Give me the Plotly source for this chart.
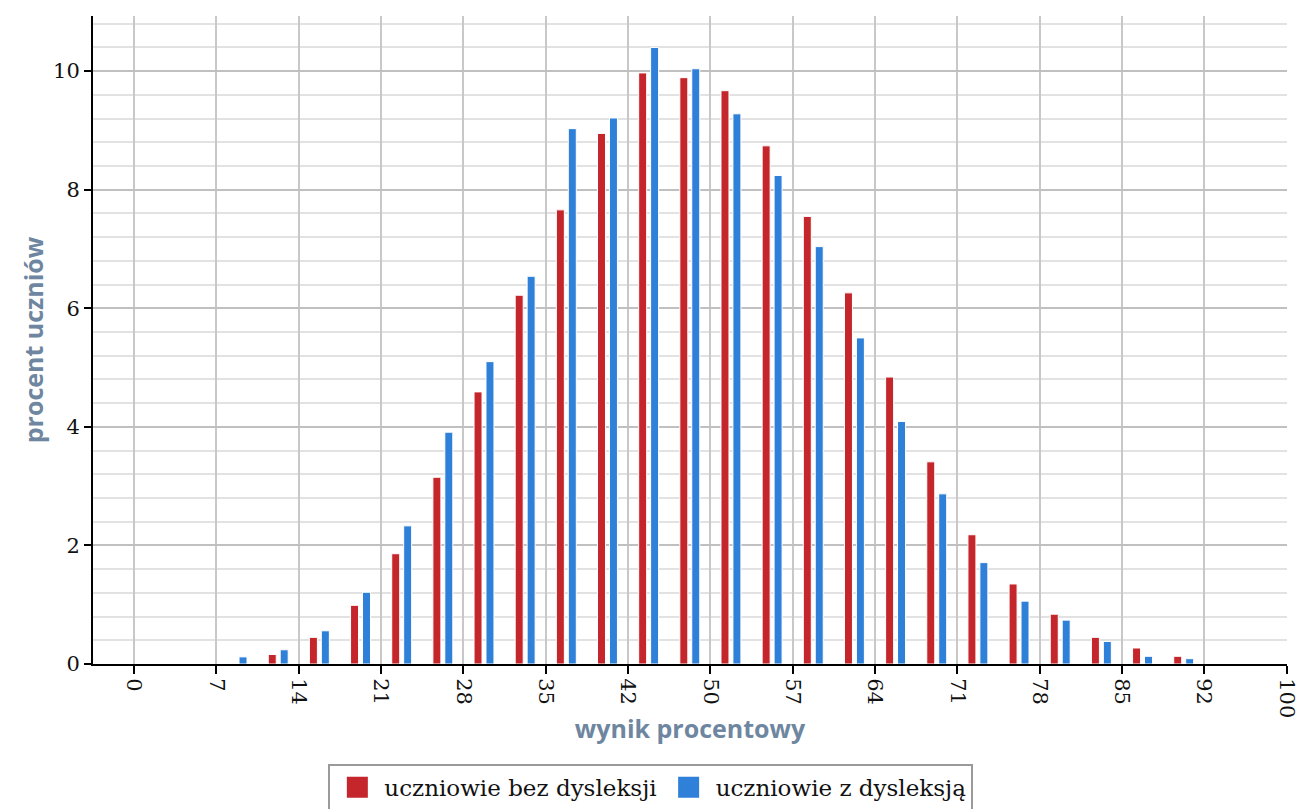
import plotly.graph_objects as go

# score (points) bins, 0..28 points mapped to percent ticks
punkty = list(range(2, 26))
bez_dysleksji = [0.0, 0.16, 0.45, 0.99, 1.86, 3.15, 4.59, 6.22, 7.66, 8.95, 9.97, 9.89,
                 9.67, 8.74, 7.55, 6.26, 4.84, 3.41, 2.18, 1.35, 0.84, 0.45, 0.27, 0.13]
z_dysleksja = [0.12, 0.24, 0.56, 1.21, 2.33, 3.91, 5.10, 6.54, 9.03, 9.21, 10.40, 10.04,
               9.28, 8.24, 7.04, 5.50, 4.09, 2.87, 1.71, 1.06, 0.74, 0.38, 0.13, 0.09]
tick_pkt = list(range(0, 29, 2))
tick_labels = ["0", "7", "14", "21", "28", "35", "42", "50", "57", "64", "71", "78", "85", "92", "100"]

series_names = ["uczniowie bez dysleksji", "uczniowie z dysleksją"]
colors = ["#c4262b", "#2f80d9"]

xpos = [p + 0.5 for p in punkty]

fig = go.Figure()
for name, vals, col in zip(series_names, [bez_dysleksji, z_dysleksja], colors):
    fig.add_trace(go.Bar(x=xpos, y=vals, name=name, showlegend=False,
                         marker=dict(color=col, line=dict(color="white", width=1))))
# legend entries with larger square swatches
for name, col in zip(series_names, colors):
    fig.add_trace(go.Scatter(x=[None], y=[None], mode="markers", name=name,
                             marker=dict(symbol="square", size=16, color=col,
                                         line=dict(color=col, width=5))))

serif = "DejaVu Serif"
title_font = dict(family="Open Sans", size=25, color="#6e86a0", weight="bold")
tick_font = dict(family=serif, size=21, color="#111111")

fig.update_layout(
    width=1303, height=809,
    paper_bgcolor="white", plot_bgcolor="white",
    barmode="group", bargap=0.42, bargroupgap=0.33,
    margin=dict(l=93, r=16, t=16, b=145),
    font=dict(family=serif, size=23, color="#111111"),
    showlegend=True,
    legend=dict(orientation="h", x=0.4995, xref="container", xanchor="center",
                y=0.056, yref="container", yanchor="top",
                bordercolor="#9a9a9a", borderwidth=2, bgcolor="white",
                font=dict(family=serif, size=23, color="#111111"),
                itemsizing="trace", itemwidth=44),
    xaxis=dict(range=[-1, 28.01], tickmode="array", tickvals=tick_pkt, ticktext=tick_labels,
               tickangle=90, tickfont=tick_font,
               showgrid=True, gridcolor="#c8c8c8", gridwidth=2,
               showline=True, linecolor="black", linewidth=2,
               ticks="outside", ticklen=8, tickwidth=2, tickcolor="black",
               ticklabeloverflow="allow",
               zeroline=False, automargin=False,
               title=dict(text="wynik procentowy", font=title_font, standoff=3)),
    yaxis=dict(range=[0, 10.93], tickmode="array", tickvals=[0, 2, 4, 6, 8, 10],
               tickfont=tick_font,
               showgrid=True, gridcolor="#c0c0c0", gridwidth=2,
               minor=dict(dtick=0.4, tick0=0, showgrid=True, gridcolor="#e2e2e2", gridwidth=2),
               showline=True, linecolor="black", linewidth=2,
               ticks="outside", ticklen=7, tickwidth=2, tickcolor="black",
               zeroline=False, automargin=False,
               title=dict(text="procent uczniów", font=title_font, standoff=2)),
)

fig.write_html("out.html", config={"displayModeBar": False},
               post_script="document.body.style.margin='0';document.body.style.overflow='hidden';")
